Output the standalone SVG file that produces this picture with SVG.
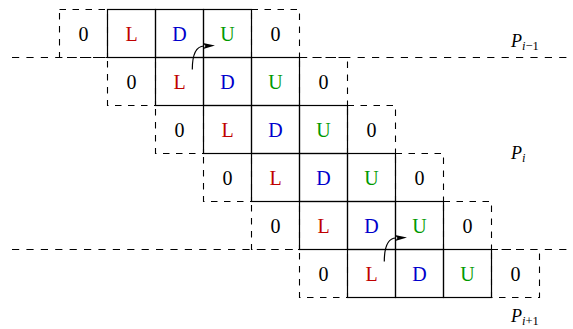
<svg xmlns="http://www.w3.org/2000/svg" width="573" height="329" viewBox="0 0 573 329">
<style>
.bg{fill:#ffffff}
.z{fill:none;stroke:#000;stroke-width:1.1;stroke-dasharray:6.5 6.5}
.s{fill:none;stroke:#000;stroke-width:1.2}
.hl{fill:none;stroke:#000;stroke-width:1.1;stroke-dasharray:7.2 7.2}
text{font-family:'Liberation Serif','Times New Roman','DejaVu Serif',serif}
.t{font-size:20px;text-anchor:middle}
.k{fill:#000}
.r{fill:#bf0000}
.b{fill:#0000cc}
.g{fill:#009900}
.lbl{font-size:18px;font-style:italic;fill:#000}
.sub{font-size:12.5px}
.up{font-style:normal}
.arr{fill:none;stroke:#000;stroke-width:1.2}
</style>
<defs>
<marker id="ah" markerUnits="userSpaceOnUse" viewBox="0 0 12 6" refX="1" refY="3" markerWidth="12" markerHeight="6" orient="auto">
<path d="M0,0 L12,3 L0,6 L2.5,3 Z" fill="#000"/>
</marker>
</defs>
<rect class="bg" x="0" y="0" width="573" height="329"/>
<g id="partition-lines">
<line class="hl" x1="12" y1="57.5" x2="573" y2="57.5"/>
<line class="hl" x1="12" y1="249.5" x2="573" y2="249.5"/>
</g>
<g id="row0">
<g id="r0c0"><rect class="z" x="59.5" y="9.5" width="48" height="48"/><text class="t k" x="83.5" y="40.5">0</text></g>
<g id="r0c4"><rect class="z" x="251.5" y="9.5" width="48" height="48"/><text class="t k" x="275.5" y="40.5">0</text></g>
<g id="r0c1"><rect class="s" x="107.5" y="9.5" width="48" height="48"/><text class="t r" x="131.5" y="40.5">L</text></g>
<g id="r0c2"><rect class="s" x="155.5" y="9.5" width="48" height="48"/><text class="t b" x="179.5" y="40.5">D</text></g>
<g id="r0c3"><rect class="s" x="203.5" y="9.5" width="48" height="48"/><text class="t g" x="227.5" y="40.5">U</text></g>
</g>
<g id="row1">
<g id="r1c0"><rect class="z" x="107.5" y="57.5" width="48" height="48"/><text class="t k" x="131.5" y="88.5">0</text></g>
<g id="r1c4"><rect class="z" x="299.5" y="57.5" width="48" height="48"/><text class="t k" x="323.5" y="88.5">0</text></g>
<g id="r1c1"><rect class="s" x="155.5" y="57.5" width="48" height="48"/><text class="t r" x="179.5" y="88.5">L</text></g>
<g id="r1c2"><rect class="s" x="203.5" y="57.5" width="48" height="48"/><text class="t b" x="227.5" y="88.5">D</text></g>
<g id="r1c3"><rect class="s" x="251.5" y="57.5" width="48" height="48"/><text class="t g" x="275.5" y="88.5">U</text></g>
</g>
<g id="row2">
<g id="r2c0"><rect class="z" x="155.5" y="105.5" width="48" height="48"/><text class="t k" x="179.5" y="136.5">0</text></g>
<g id="r2c4"><rect class="z" x="347.5" y="105.5" width="48" height="48"/><text class="t k" x="371.5" y="136.5">0</text></g>
<g id="r2c1"><rect class="s" x="203.5" y="105.5" width="48" height="48"/><text class="t r" x="227.5" y="136.5">L</text></g>
<g id="r2c2"><rect class="s" x="251.5" y="105.5" width="48" height="48"/><text class="t b" x="275.5" y="136.5">D</text></g>
<g id="r2c3"><rect class="s" x="299.5" y="105.5" width="48" height="48"/><text class="t g" x="323.5" y="136.5">U</text></g>
</g>
<g id="row3">
<g id="r3c0"><rect class="z" x="203.5" y="153.5" width="48" height="48"/><text class="t k" x="227.5" y="184.5">0</text></g>
<g id="r3c4"><rect class="z" x="395.5" y="153.5" width="48" height="48"/><text class="t k" x="419.5" y="184.5">0</text></g>
<g id="r3c1"><rect class="s" x="251.5" y="153.5" width="48" height="48"/><text class="t r" x="275.5" y="184.5">L</text></g>
<g id="r3c2"><rect class="s" x="299.5" y="153.5" width="48" height="48"/><text class="t b" x="323.5" y="184.5">D</text></g>
<g id="r3c3"><rect class="s" x="347.5" y="153.5" width="48" height="48"/><text class="t g" x="371.5" y="184.5">U</text></g>
</g>
<g id="row4">
<g id="r4c0"><rect class="z" x="251.5" y="201.5" width="48" height="48"/><text class="t k" x="275.5" y="232.5">0</text></g>
<g id="r4c4"><rect class="z" x="443.5" y="201.5" width="48" height="48"/><text class="t k" x="467.5" y="232.5">0</text></g>
<g id="r4c1"><rect class="s" x="299.5" y="201.5" width="48" height="48"/><text class="t r" x="323.5" y="232.5">L</text></g>
<g id="r4c2"><rect class="s" x="347.5" y="201.5" width="48" height="48"/><text class="t b" x="371.5" y="232.5">D</text></g>
<g id="r4c3"><rect class="s" x="395.5" y="201.5" width="48" height="48"/><text class="t g" x="419.5" y="232.5">U</text></g>
</g>
<g id="row5">
<g id="r5c0"><rect class="z" x="299.5" y="249.5" width="48" height="48"/><text class="t k" x="323.5" y="280.5">0</text></g>
<g id="r5c4"><rect class="z" x="491.5" y="249.5" width="48" height="48"/><text class="t k" x="515.5" y="280.5">0</text></g>
<g id="r5c1"><rect class="s" x="347.5" y="249.5" width="48" height="48"/><text class="t r" x="371.5" y="280.5">L</text></g>
<g id="r5c2"><rect class="s" x="395.5" y="249.5" width="48" height="48"/><text class="t b" x="419.5" y="280.5">D</text></g>
<g id="r5c3"><rect class="s" x="443.5" y="249.5" width="48" height="48"/><text class="t g" x="467.5" y="280.5">U</text></g>
</g>
<g id="connectors">
<path class="arr" d="M192.3,69.5 C192.3,55 195.5,46.3 204,46" marker-end="url(#ah)"/>
<path class="arr" d="M384.3,261.5 C384.3,247 387.5,238.3 396,238" marker-end="url(#ah)"/>
</g>
<g id="labels">
<text class="lbl" x="511" y="47">P<tspan class="sub" dy="3">i<tspan class="up">−1</tspan></tspan></text>
<text class="lbl" x="511" y="159">P<tspan class="sub" dy="3">i</tspan></text>
<text class="lbl" x="511" y="322">P<tspan class="sub" dy="3">i<tspan class="up">+1</tspan></tspan></text>
</g>
</svg>
